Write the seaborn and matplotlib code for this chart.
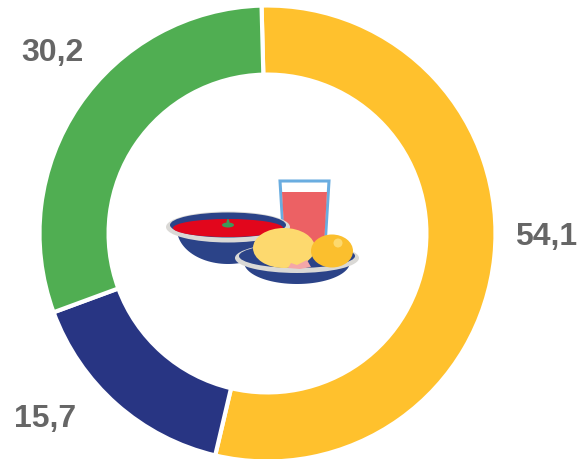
import numpy as np
import matplotlib
matplotlib.use("Agg")
import matplotlib.pyplot as plt
import seaborn as sns
from matplotlib.patches import Ellipse, Polygon

categories = ["Amarillo", "Azul", "Verde"]
values = [54.1, 15.7, 30.2]
colors = ["#FFC12D", "#283583", "#50AE52"]
value_labels = ["54,1", "15,7", "30,2"]
label_positions = [(546, 237), (45, 419), (52, 53)]

W, H = 580, 459
sns.set_theme(style="white")
plt.rcParams["font.family"] = ["Liberation Sans", "DejaVu Sans"]

fig = plt.figure(figsize=(W / 100, H / 100), dpi=100)
cx, cy, R = 267.5, 233.5, 228
ax = fig.add_axes([(cx - R) / W, 1 - (cy + R) / H, 2 * R / W, 2 * R / H])
ax.pie(values, colors=colors, startangle=91.5, counterclock=False, radius=1,
       wedgeprops=dict(width=0.303, edgecolor="white", linewidth=3))
ax.set_xlim(-1, 1)
ax.set_ylim(-1, 1)

ov = fig.add_axes([0, 0, 1, 1], facecolor="none")
ov.set_xlim(0, W)
ov.set_ylim(H, 0)
ov.axis("off")

for txt, (x, y) in zip(value_labels, label_positions):
    ov.text(x, y, txt, ha="center", va="center", fontsize=23, fontweight="bold", color="#666666")

def half_ellipse(x0, y0, rx, ry):
    t = np.linspace(0, np.pi, 60)
    return np.column_stack([x0 + rx * np.cos(t), y0 + ry * np.sin(t)])

BLUE, GREY = "#2B4388", "#DAD9D6"
# glass
ov.add_patch(Polygon([(280, 181), (329, 181), (325, 246), (284, 246)], fc="white", ec="#6AADE0", lw=2.2, zorder=2))
ov.add_patch(Polygon([(282, 192), (327, 192), (324, 245), (285, 245)], fc="#EC6164", ec="none", zorder=3))
# soup bowl
ov.add_patch(Polygon(half_ellipse(228, 229, 51, 35), fc=BLUE, ec="none", zorder=4))
ov.add_patch(Ellipse((228, 227), 124, 31, fc=GREY, ec="none", zorder=5))
ov.add_patch(Ellipse((228, 225), 116, 25, fc=BLUE, ec="none", zorder=6))
ov.add_patch(Ellipse((228, 228), 110, 18, fc="#E2061C", ec="none", zorder=7))
ov.add_patch(Ellipse((228, 225), 12, 5, fc="#3C9A5A", ec="none", zorder=8))
ov.add_patch(Ellipse((228, 223), 3, 8, fc="#3C9A5A", ec="none", zorder=8))
# plate
ov.add_patch(Polygon(half_ellipse(297, 262, 53, 22), fc=BLUE, ec="none", zorder=9))
ov.add_patch(Ellipse((297, 258), 124, 30, fc=GREY, ec="none", zorder=10))
ov.add_patch(Ellipse((297, 256), 116, 24, fc=BLUE, ec="none", zorder=11))
# food
ov.add_patch(Ellipse((284, 248), 62, 40, fc="#FDD96E", ec="none", zorder=12))
ov.add_patch(Polygon([(288, 268), (291, 263), (297, 265), (307, 260), (311, 267), (300, 269)], fc="#F4A6A8", ec="none", zorder=13))
ov.add_patch(Ellipse((332, 251), 42, 33, fc="#FBBF2E", ec="none", zorder=14))
ov.add_patch(Ellipse((338, 243), 9, 9, fc="#FDD96E", ec="none", zorder=15))

fig.savefig("out.png", dpi=100, facecolor="white")
